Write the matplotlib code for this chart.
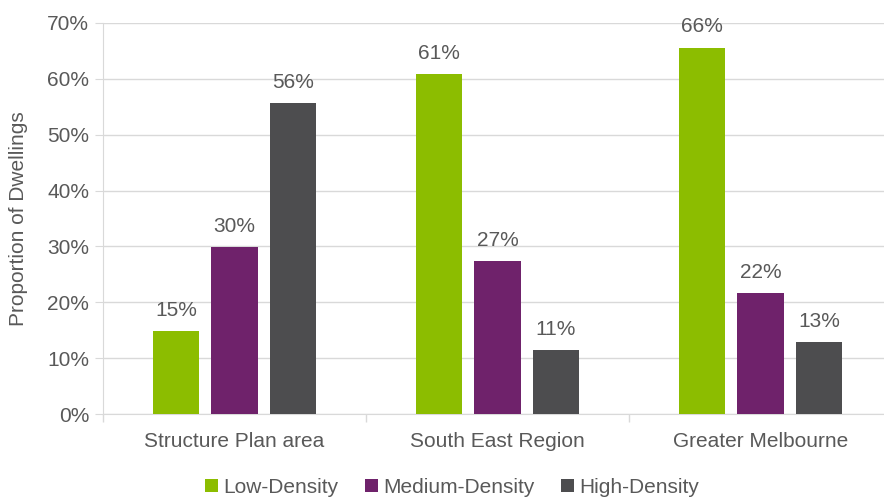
import numpy as np
import matplotlib.pyplot as plt
from matplotlib.ticker import PercentFormatter

plt.rcParams['font.family'] = ['Liberation Sans', 'DejaVu Sans']

categories = ['Structure Plan area', 'South East Region', 'Greater Melbourne']
series = ['Low-Density', 'Medium-Density', 'High-Density']
low = [14.8, 60.9, 65.6]
medium = [29.9, 27.4, 21.7]
high = [55.7, 11.4, 12.9]
colors = ['#8cbd00', '#6f226b', '#4d4d4f']

text_col = '#595959'
grid_col = '#d9d9d9'
fs = 15

fig = plt.figure(figsize=(8.84, 4.98), dpi=100)
ax = fig.add_axes([103 / 884, 84 / 498, 789 / 884, 391 / 498])

x = np.arange(len(categories))
width = 0.175
step = 0.222
for i, (vals, name, c) in enumerate(zip([low, medium, high], series, colors)):
    pos = x + (i - 1) * step
    bars = ax.bar(pos, vals, width, color=c, label=name, zorder=3)
    for b, v in zip(bars, vals):
        ax.text(b.get_x() + b.get_width() / 2, v + 2.0, '{:.0f}%'.format(v),
                ha='center', va='bottom', fontsize=fs, color=text_col)

ax.set_xlim(-0.5, 2.5)
ax.set_ylim(0, 70)
ax.set_yticks(np.arange(0, 71, 10))
ax.yaxis.set_major_formatter(PercentFormatter(decimals=0))
ax.set_xticks(x)
ax.set_xticklabels(categories)
ax.set_xticks([-0.5, 0.5, 1.5, 2.5], minor=True)
ax.tick_params(axis='x', which='major', length=0, pad=13, labelsize=fs, labelcolor=text_col)
ax.tick_params(axis='x', which='minor', length=6, color=grid_col, width=1)
ax.tick_params(axis='y', length=6, color=grid_col, labelsize=fs, labelcolor=text_col, pad=4)
ax.grid(axis='y', color=grid_col, linewidth=1, zorder=0)
for s in ['top', 'right']:
    ax.spines[s].set_visible(False)
ax.spines['left'].set_color(grid_col)
ax.spines['bottom'].set_color(grid_col)
ax.set_ylabel('Proportion of Dwellings', fontsize=fs, color=text_col, labelpad=14)

leg = fig.legend(loc='center', bbox_to_anchor=(452 / 884, 1 - 487 / 498), ncol=3,
                 frameon=False, fontsize=fs, handlelength=0.6, handleheight=0.6,
                 handletextpad=0.25, columnspacing=1.3)
for t in leg.get_texts():
    t.set_color(text_col)

fig.savefig('out.png', dpi=100)
